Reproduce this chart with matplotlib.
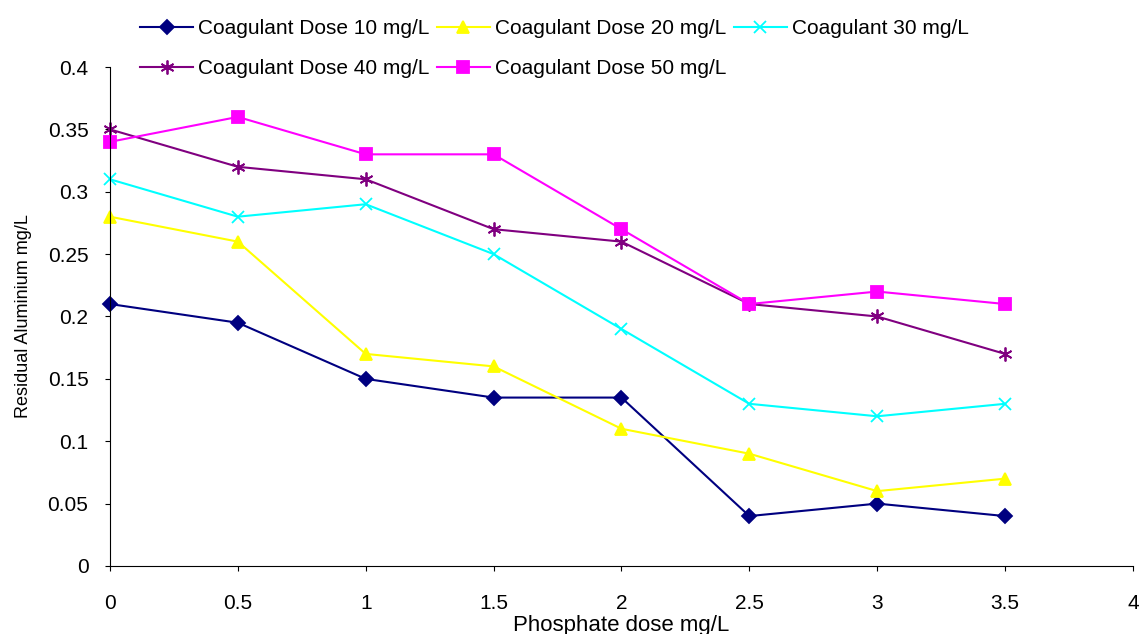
import matplotlib.pyplot as plt

plt.rcParams['font.family'] = ['Liberation Sans', 'DejaVu Sans']

phosphate = [0, 0.5, 1, 1.5, 2, 2.5, 3, 3.5]
dose_10 = [0.21, 0.195, 0.15, 0.135, 0.135, 0.04, 0.05, 0.04]
dose_20 = [0.28, 0.26, 0.17, 0.16, 0.11, 0.09, 0.06, 0.07]
dose_30 = [0.31, 0.28, 0.29, 0.25, 0.19, 0.13, 0.12, 0.13]
dose_40 = [0.35, 0.32, 0.31, 0.27, 0.26, 0.21, 0.20, 0.17]
dose_50 = [0.34, 0.36, 0.33, 0.33, 0.27, 0.21, 0.22, 0.21]

labels = ['Coagulant Dose 10 mg/L', 'Coagulant Dose 20 mg/L', 'Coagulant 30 mg/L',
          'Coagulant Dose 40 mg/L', 'Coagulant Dose 50 mg/L']
x_ticks = [0, 0.5, 1, 1.5, 2, 2.5, 3, 3.5, 4]
y_ticks = [0, 0.05, 0.1, 0.15, 0.2, 0.25, 0.3, 0.35, 0.4]

fig = plt.figure(figsize=(11.43, 6.34), dpi=100)
ax = fig.add_axes([0.0962, 0.1073, 0.895, 0.787])

styles = [
    (dose_10, '#000080', 'D', 7),
    (dose_20, '#FFFF00', '^', 9),
    (dose_30, '#00FFFF', 'x', 8),
    (dose_40, '#800080', (6, 2, 0), 10),
    (dose_50, '#FF00FF', 's', 9),
]
handles = []
for (vals, color, marker, ms), lab in zip(styles, labels):
    h, = ax.plot(phosphate, vals, color=color, marker=marker, markersize=ms,
                 linewidth=1.5, markeredgewidth=1.3, label=lab, clip_on=False)
    handles.append(h)

ax.set_xlim(0, 4)
ax.set_ylim(0, 0.4)
ax.set_xticks(x_ticks)
ax.set_xticklabels([f'{v:g}' for v in x_ticks])
ax.set_yticks(y_ticks)
ax.set_yticklabels([f'{v:g}' for v in y_ticks])
ax.spines['top'].set_visible(False)
ax.spines['right'].set_visible(False)
ax.tick_params(axis='x', direction='out', length=3.5, pad=17, labelsize=15)
ax.tick_params(axis='y', direction='out', length=3.5, pad=12, labelsize=15)
ax.set_xlabel('Phosphate dose mg/L', fontsize=16, labelpad=1)
ax.set_ylabel('Residual Aluminium mg/L', fontsize=13, labelpad=11)

order = [0, 3, 1, 4, 2]
fig.legend([handles[i] for i in order], [labels[i] for i in order],
           loc='upper left', bbox_to_anchor=(0.1225, 0.970), ncol=3, frameon=False,
           fontsize=15, handlelength=2.55, handletextpad=0.24, columnspacing=0.35,
           labelspacing=1.0, borderpad=0, borderaxespad=0)

fig.savefig('out.png', dpi=100)
